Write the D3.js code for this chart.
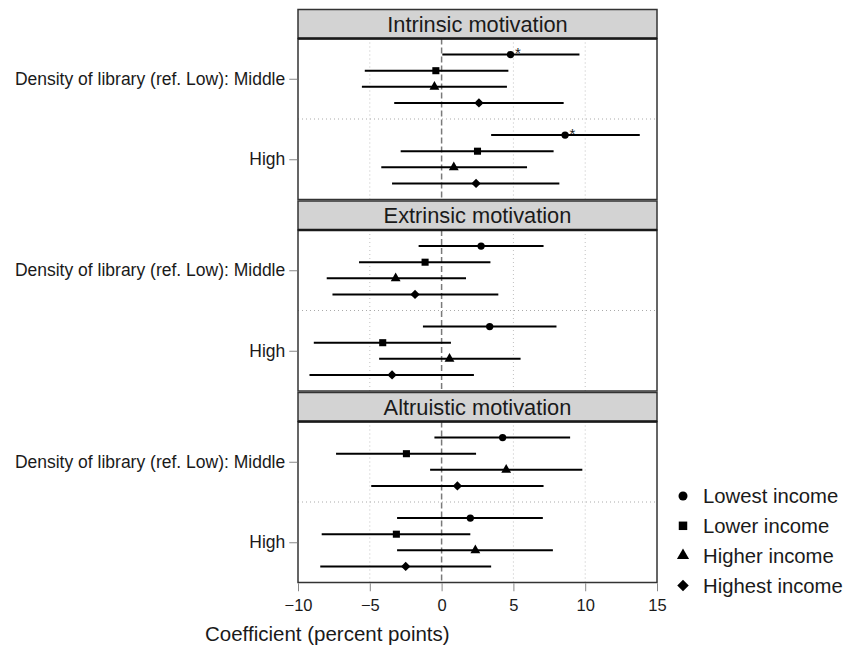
<!DOCTYPE html>
<html>
<head>
<meta charset="utf-8">
<script src="https://cdn.jsdelivr.net/npm/d3@7"></script>
<style>
  html, body { margin: 0; padding: 0; background: #fff; }
  svg { display: block; font-family: "Liberation Sans", Arial, sans-serif; }
</style>
</head>
<body>
<svg id="chart" width="846" height="648"></svg>
<script>
// ---------------- data ----------------
const motivations = ["Intrinsic motivation", "Extrinsic motivation", "Altruistic motivation"];
const densityLevels = ["Middle", "High"];
const densityLabels = ["Density of library (ref. Low): Middle", "High"];
const incomeGroups = ["Lowest income", "Lower income", "Higher income", "Highest income"];
const xTicks = [-10, -5, 0, 5, 10, 15];

// estimates per motivation: rows = density level (Middle, High), cols = income group
const estIntrinsic  = [[4.8, -0.4, -0.5, 2.6], [8.6, 2.5, 0.85, 2.4]];
const loIntrinsic   = [[0.05, -5.35, -5.55, -3.3], [3.45, -2.85, -4.2, -3.45]];
const hiIntrinsic   = [[9.6, 4.65, 4.55, 8.5], [13.8, 7.8, 5.95, 8.2]];
const sigIntrinsic  = [[true, false, false, false], [true, false, false, false]];

const estExtrinsic  = [[2.75, -1.15, -3.2, -1.85], [3.35, -4.1, 0.55, -3.45]];
const loExtrinsic   = [[-1.6, -5.75, -8.0, -7.6], [-1.3, -8.9, -4.35, -9.2]];
const hiExtrinsic   = [[7.1, 3.4, 1.7, 3.95], [8.0, 0.65, 5.5, 2.25]];
const sigExtrinsic  = [[false, false, false, false], [false, false, false, false]];

const estAltruistic = [[4.25, -2.45, 4.5, 1.1], [2.0, -3.15, 2.35, -2.5]];
const loAltruistic  = [[-0.5, -7.35, -0.8, -4.9], [-3.1, -8.35, -3.1, -8.45]];
const hiAltruistic  = [[8.95, 2.4, 9.8, 7.1], [7.05, 2.0, 7.75, 3.45]];
const sigAltruistic = [[false, false, false, false], [false, false, false, false]];

const estimates = [estIntrinsic, estExtrinsic, estAltruistic];
const lowers = [loIntrinsic, loExtrinsic, loAltruistic];
const uppers = [hiIntrinsic, hiExtrinsic, hiAltruistic];
const signif = [sigIntrinsic, sigExtrinsic, sigAltruistic];

// ---------------- layout ----------------
const svg = d3.select("#chart");
const panelLeft = 298, panelRight = 657;
const firstStripTop = 9.5, stripH = 29, bodyH = 161, panelGap = 1.5;
const textCol = "#1a1a1a";

const x = d3.scaleLinear().domain([-10, 15]).range([panelLeft, panelRight]);

const shapeTypes = [d3.symbolCircle, d3.symbolSquare, d3.symbolTriangle, d3.symbolSquare];
const shapeRot = [0, 0, 0, 45];
const plotSizes = [42, 50, 42, 44];
const legendSizes = [64, 72, 64, 66];
const dodge = [-0.3, -0.1, 0.1, 0.3];

let lastBodyBottom = 0;
motivations.forEach((mot, mi) => {
  const stripTop = firstStripTop + mi * (stripH + bodyH + panelGap);
  const bodyTop = stripTop + stripH;
  const bodyBottom = bodyTop + bodyH;
  lastBodyBottom = bodyBottom;

  const y = d3.scalePoint().domain(densityLevels).range([bodyTop, bodyBottom]).padding(0.5);
  const step = y.step();

  const g = svg.append("g");

  g.append("rect").attr("x", panelLeft).attr("y", bodyTop)
    .attr("width", panelRight - panelLeft).attr("height", bodyH)
    .attr("fill", "#fff");

  // vertical dotted gridlines
  g.selectAll(".vgrid").data(xTicks.filter(t => t !== 0 && t > -10 && t < 15)).enter()
    .append("line")
    .attr("x1", d => x(d)).attr("x2", d => x(d))
    .attr("y1", bodyTop).attr("y2", bodyBottom)
    .attr("stroke", "#c0c0c0").attr("stroke-width", 1)
    .attr("stroke-dasharray", "1,3");

  // horizontal dotted separator between density levels
  const sepY = (y(densityLevels[0]) + y(densityLevels[1])) / 2;
  g.append("line").attr("x1", panelLeft).attr("x2", panelRight)
    .attr("y1", sepY).attr("y2", sepY)
    .attr("stroke", "#aaaaaa").attr("stroke-width", 1)
    .attr("stroke-dasharray", "1,3");

  // zero line (dashed)
  g.append("line").attr("x1", x(0)).attr("x2", x(0))
    .attr("y1", bodyTop).attr("y2", bodyBottom)
    .attr("stroke", "#7a7a7a").attr("stroke-width", 1.5)
    .attr("stroke-dasharray", "6,3");

  // error bars and points
  densityLevels.forEach((lvl, li) => {
    incomeGroups.forEach((grp, gi) => {
      const cy = y(lvl) + dodge[gi] * step;
      const est = estimates[mi][li][gi];
      g.append("line")
        .attr("x1", x(lowers[mi][li][gi])).attr("x2", x(uppers[mi][li][gi]))
        .attr("y1", cy).attr("y2", cy)
        .attr("stroke", "#000").attr("stroke-width", 2);
      g.append("path")
        .attr("d", d3.symbol().type(shapeTypes[gi]).size(plotSizes[gi])())
        .attr("transform", `translate(${x(est)},${cy}) rotate(${shapeRot[gi]})`)
        .attr("fill", "#000");
      if (signif[mi][li][gi]) {
        g.append("text")
          .attr("x", x(est) + 4.5).attr("y", cy + 3.5)
          .attr("font-size", 15).attr("fill", textCol)
          .text("*");
      }
    });
  });

  // panel border
  g.append("rect").attr("x", panelLeft).attr("y", bodyTop)
    .attr("width", panelRight - panelLeft).attr("height", bodyH)
    .attr("fill", "none").attr("stroke", "#333").attr("stroke-width", 1.5);

  // strip
  g.append("rect").attr("x", panelLeft).attr("y", stripTop)
    .attr("width", panelRight - panelLeft).attr("height", stripH)
    .attr("fill", "#d3d3d3").attr("stroke", "#333").attr("stroke-width", 1.5);
  g.append("line").attr("x1", panelLeft).attr("x2", panelRight)
    .attr("y1", bodyTop).attr("y2", bodyTop)
    .attr("stroke", "#1a1a1a").attr("stroke-width", 2.5);
  g.append("text")
    .attr("x", (panelLeft + panelRight) / 2).attr("y", stripTop + stripH / 2)
    .attr("dy", "0.36em").attr("text-anchor", "middle")
    .attr("font-size", 21.8).attr("fill", textCol)
    .text(mot);

  // y axis
  const yAxis = d3.axisLeft(y).tickSize(8).tickPadding(4)
    .tickFormat((d, i) => densityLabels[i]);
  const ya = g.append("g").attr("transform", `translate(${panelLeft - 0.75},0)`).call(yAxis);
  ya.select(".domain").remove();
  ya.selectAll(".tick line").attr("stroke", "#888").attr("stroke-width", 1);
  ya.selectAll(".tick text").attr("font-size", 17.5).attr("fill", textCol)
    .attr("font-family", "Liberation Sans, Arial, sans-serif");
});

// x axis
const axisY = lastBodyBottom + 0.75;
const xAxis = d3.axisBottom(x).tickValues(xTicks).tickSize(8).tickPadding(4)
  .tickFormat(d => d < 0 ? "\u2212" + Math.abs(d) : String(d));
const xa = svg.append("g").attr("transform", `translate(0,${axisY})`).call(xAxis);
xa.select(".domain").remove();
xa.selectAll(".tick line").attr("stroke", "#888").attr("stroke-width", 1);
xa.selectAll(".tick text").attr("font-size", 16.5).attr("fill", textCol)
  .attr("y", 611 - axisY).attr("dy", null)
  .attr("font-family", "Liberation Sans, Arial, sans-serif");

// x axis title
svg.append("text").attr("x", 205).attr("y", 641)
  .attr("font-size", 20.5).attr("fill", textCol)
  .text("Coefficient (percent points)");

// legend
const legend = svg.append("g");
incomeGroups.forEach((grp, gi) => {
  const ly = 496 + gi * 29.8;
  legend.append("path")
    .attr("d", d3.symbol().type(shapeTypes[gi]).size(legendSizes[gi])())
    .attr("transform", `translate(683,${ly}) rotate(${shapeRot[gi]})`)
    .attr("fill", "#000");
  legend.append("text").attr("x", 703).attr("y", ly).attr("dy", "0.36em")
    .attr("font-size", 20.3).attr("fill", textCol).text(grp);
});
</script>
</body>
</html>
